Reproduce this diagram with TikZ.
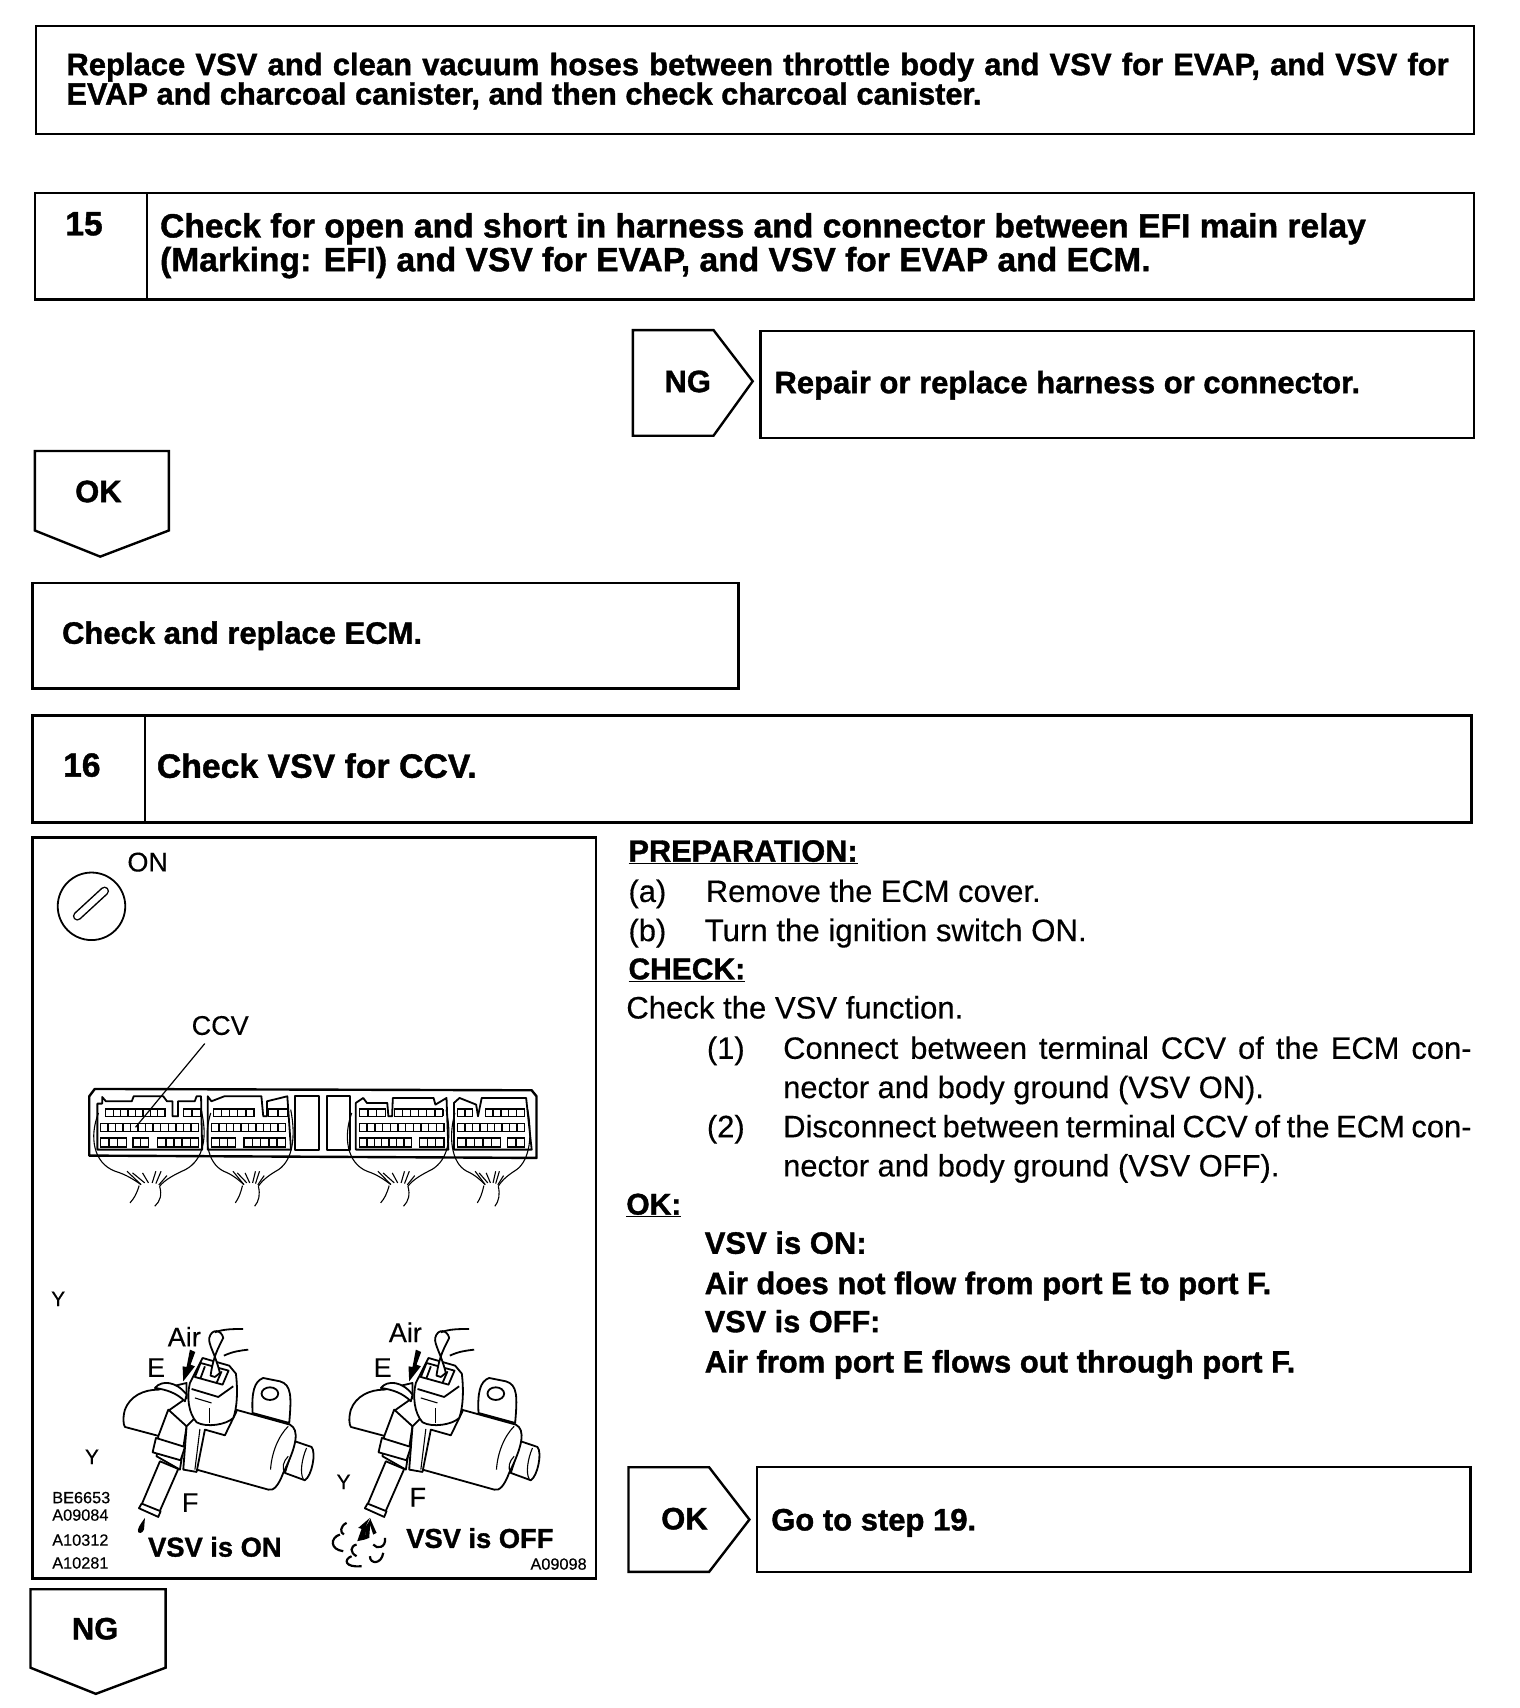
\documentclass[tikz,border=0pt]{standalone}
\usepackage{fontspec}
\setmainfont{Liberation Sans}[FakeBold=0.35,BoldFeatures={FakeBold=1.2}]
\newcommand{\reg}[1][30.9]{\fontsize{#1}{36}\selectfont\ignorespaces}
\newcommand{\bol}[1][31]{\fontsize{#1}{36}\selectfont\bfseries\ignorespaces}
\newcommand{\lab}{\fontsize{27}{30}\selectfont}
\newcommand{\labb}{\fontsize{27.3}{30}\selectfont\bfseries}
\newcommand{\sml}{\fontsize{16.3}{18}\selectfont}
\newcommand{\yy}{\fontsize{21}{24}\selectfont}
\newcommand{\wide}[2]{\makebox[1.0896\dimexpr #1pt\relax][s]{#2}}
\tikzset{
  frameb/.style={draw=black,line width=2.4pt,fill=white,line join=miter,outer sep=0pt},
  txt/.style={anchor=base west,inner sep=0pt,outer sep=0pt,text=black},
  thinl/.style={draw=black,line width=1.1pt},
  med/.style={draw=black,line width=1.8pt,line join=round},
  medw/.style={draw=black,line width=1.8pt,fill=white,line join=round},
}
\newcommand{\tx}[4]{\node[txt] (#1) at (#2,#3) {#4};}
\newcommand{\pinrow}[5]{% x1,x2,y1,y2,n
  \draw[line width=1.2pt] (#1,#3) rectangle (#2,#4);
  \pgfmathsetmacro{\pw}{(#2-#1)/#5}
  \foreach \i in {1,...,#5}{
    \draw[line width=1.4pt] ({#1+\i*\pw},#3) -- ({#1+\i*\pw},#4);}
}
\newcommand{\harness}{%
  \draw[thinl] (-137,30) .. controls (-162,100) and (-152,180) .. (-92,205) .. controls (-62,215) and (-42,230) .. (-22,245);
  \draw[thinl] (140,20) .. controls (158,100) and (148,170) .. (98,200) .. controls (68,215) and (43,230) .. (28,250);
  \draw[thinl] (-27,248) .. controls (-35,275) and (-40,285) .. (-52,300);
  \draw[thinl] (28,250) .. controls (35,275) and (30,295) .. (15,310);
  \draw[thinl] (-22,245) -- (-60,205);
  \draw[thinl] (-12,240) -- (-45,210);
  \draw[thinl] (-2,240) -- (-18,210);
  \draw[thinl] (8,240) -- (18,205);
  \draw[thinl] (18,242) -- (32,205);
  \draw[thinl] (26,246) -- (48,218);
}
\newcommand{\valve}{%
  % nub
  \draw[medw] (795,515) -- (845,532) .. controls (860,550) and (845,620) .. (825,632) -- (765,610) -- cycle;
  \draw[thinl] (830,535) .. controls (815,570) and (810,610) .. (820,628);
  % tab
  \draw[medw] (668,430) .. controls (665,370) and (672,335) .. (700,325) -- (750,335) .. controls (785,345) and (785,380) .. (778,460) -- cycle;
  \draw[med] (720,372) ellipse (25 and 19);
  % body
  \draw[medw] (610,418) -- (780,465) .. controls (810,480) and (800,530) .. (760,610) .. controls (745,650) and (730,665) .. (715,660) -- (500,600) -- (500,470) -- cycle;
  \draw[thinl] (775,470) .. controls (745,500) and (725,550) .. (722,600);
  \draw[thinl] (775,560) .. controls (760,575) and (755,595) .. (765,610);
  % elbow
  \draw[medw] (385,360) .. controls (340,360) and (300,380) .. (285,420) .. controls (278,445) and (280,465) .. (285,472) -- (390,500) -- (420,420) -- (470,385) -- (470,340) -- cycle;
  \draw[medw] (375,355) .. controls (395,330) and (440,335) .. (470,375) -- (465,395) .. controls (440,370) and (410,360) .. (375,355) -- cycle;
  \draw[medw] (415,420) -- (470,470) -- (450,600) -- (380,560) -- (385,500) -- cycle;
  % clamp
  \draw[medw] (470,470) -- (460,600) -- (500,607) -- (525,480) -- (585,497) -- (620,425) -- (500,440) -- cycle;
  \draw[thinl] (510,478) -- (495,600);
  % tube
  \draw[medw] (390,575) -- (335,705) -- (388,728) -- (445,598) -- cycle;
  \draw[medw] (335,702) -- (392,725) -- (385,742) -- (327,716) -- cycle;
  \draw[medw] (378,505) -- (465,532) -- (452,572) -- (368,548) -- cycle;
  % plug
  \draw[medw] (480,340) -- (518,265) -- (598,288) -- (618,312) .. controls (625,370) and (620,420) .. (610,445) .. controls (590,465) and (530,475) .. (500,458) .. controls (475,430) and (470,380) .. (480,340) -- cycle;
  \draw[med] (512,280) -- (596,303) -- (578,345) -- (495,322) -- cycle;
  \draw[med] (525,290) -- (512,325);
  \draw[med] (575,305) -- (560,340);
  \draw[med] (485,358) -- (565,382) -- (610,350);
  \draw[thinl] (495,385) -- (545,400);
  \draw[thinl] (540,415) -- (540,460);
  % wires
  \draw[medw] (542,318) .. controls (550,260) and (565,235) .. (580,205) .. controls (575,180) and (545,175) .. (538,205) .. controls (535,225) and (555,250) .. (570,310) -- (555,322) -- cycle;
  \draw[med] (555,188) .. controls (580,178) and (610,178) .. (640,178);
  \draw[med] (582,258) .. controls (610,245) and (630,243) .. (655,240);
  % air arrow
  \fill[black] (480,240) -- (496,247) -- (482,285) -- (495,290) -- (460,335) -- (458,290) -- (470,292) -- cycle;
}
\begin{document}
\begin{tikzpicture}[x=1.0896pt,y=-1.0896pt]
\useasboundingbox (0,0) rectangle (1395,1568);
\fill[white] (0,0) rectangle (1395,1568);

% boxes
\node[frameb,minimum width=1320*1.0896pt,minimum height=99*1.0896pt,anchor=north west,inner sep=0pt] (b1) at (33,24) {};
\node[frameb,minimum width=1321*1.0896pt,minimum height=98*1.0896pt,anchor=north west,inner sep=0pt] (b15) at (32,177) {};
\draw[frameb,fill=none] (135,177) -- (135,275);
\draw[frameb] (581,303) -- (655,303) -- (691,350) -- (655,400) -- (581,400) -- cycle;
\node[frameb,minimum width=655*1.0896pt,minimum height=98*1.0896pt,anchor=north west,inner sep=0pt] (brep) at (698,304) {};
\draw[frameb] (32,414) -- (155,414) -- (155,487) -- (92,511) -- (32,487) -- cycle;
\node[frameb,minimum width=648*1.0896pt,minimum height=97*1.0896pt,anchor=north west,inner sep=0pt] (becm) at (30,535) {};
\node[frameb,minimum width=1321*1.0896pt,minimum height=98*1.0896pt,anchor=north west,inner sep=0pt] (b16) at (30,657) {};
\draw[frameb,fill=none] (133,657) -- (133,755);
\node[frameb,minimum width=517*1.0896pt,minimum height=680*1.0896pt,anchor=north west,inner sep=0pt] (bill) at (30,769) {};
\draw[frameb] (577,1347) -- (651,1347) -- (688,1395) -- (651,1443) -- (577,1443) -- cycle;
\node[frameb,minimum width=655*1.0896pt,minimum height=96*1.0896pt,anchor=north west,inner sep=0pt] (bgo) at (695,1347) {};
\draw[frameb] (28,1459) -- (152,1459) -- (152,1531) -- (88,1555) -- (28,1531) -- cycle;

% box texts
\tx{t1}{61}{69}{\bol[31]\wide{1269}{Replace VSV and clean vacuum hoses between throttle body and VSV for EVAP, and VSV for}}
\tx{t2}{61}{96}{\bol[30.8] EVAP and charcoal canister, and then check charcoal canister.}
\tx{t3}{60}{216}{\bol[33.6] 15}
\tx{t4}{147}{218}{\bol[33.6] Check for open and short in harness and connector between EFI main relay}
\tx{t5}{147}{249}{\bol[33.6] (Marking: EFI) and VSV for EVAP, and VSV for EVAP and ECM.}
\tx{t6}{610}{360}{\bol NG}
\tx{t7}{711}{361}{\bol Repair or replace harness or connector.}
\tx{t8}{69}{461}{\bol OK}
\tx{t9}{57}{591}{\bol Check and replace ECM.}
\tx{t10}{58}{713}{\bol[33.6] 16}
\tx{t11}{144}{714}{\bol[33.8] Check VSV for CCV.}
\tx{t12}{607}{1404}{\bol OK}
\tx{t13}{708}{1405}{\bol Go to step 19.}
\tx{t14}{66}{1505}{\bol NG}

% right column
\tx{r1}{577}{791}{\bol[30.7]\underline{PREPARATION:}}
\tx{r2}{577}{828}{\reg (a)}
\tx{r3}{648}{828}{\reg Remove the ECM cover.}
\tx{r4}{577}{864}{\reg (b)}
\tx{r5}{647}{864}{\reg[31.2] Turn the ignition switch ON.}
\tx{r6}{577}{899}{\bol[30]\underline{CHECK:}}
\tx{r7}{575}{935}{\reg[31.1] Check the VSV function.}
\tx{r8}{649}{972}{\reg (1)}
\tx{r9}{719}{972}{\reg\wide{632}{Connect between terminal CCV of the ECM con-}}
\tx{r10}{719}{1008}{\reg nector and body ground (VSV ON).}
\tx{r11}{649}{1044}{\reg (2)}
\tx{r12}{719}{1044}{\reg\wide{632}{Disconnect between terminal CCV of the ECM con-}}
\tx{r13}{719}{1080}{\reg nector and body ground (VSV OFF).}
\tx{r14}{575}{1115}{\bol[30]\underline{OK:}}
\tx{r15}{647}{1151}{\bol VSV is ON:}
\tx{r16}{647}{1188}{\bol Air does not flow from port E to port F.}
\tx{r17}{647}{1223}{\bol[30.7] VSV is OFF:}
\tx{r18}{647}{1260}{\bol Air from port E flows out through port F.}

% key
\draw[med] (84,832) circle (31);
\draw[line width=9pt,line cap=round] (71,841) -- (96,818);
\draw[white,line width=6pt,line cap=round] (71,841) -- (96,818);

% connector (zoom coordinates)
\begin{scope}[shift={(27.53,761.7)},xscale=0.3399,yscale=0.3059]
  \draw[draw=black,line width=2.4pt,line join=round] (160,978) -- (160,800) -- (175,778) -- (1355,782) -- (1368,800) -- (1368,985) -- cycle;
  \draw[med] (182,960) -- (182,822) -- (195,822) -- (195,802) -- (205,815) -- (275,815) -- (280,800) -- (360,800) -- (370,815) -- (385,815) -- (385,860) -- (400,860) -- (400,815) -- (445,815) -- (450,800) -- (462,800) -- (465,960) -- cycle;
  \draw[med] (480,960) -- (480,800) -- (490,815) -- (525,800) -- (625,800) -- (630,860) -- (640,860) -- (640,815) -- (695,800) -- (705,960) -- cycle;
  \draw[med] (715,798) rectangle (780,960);
  \draw[med] (803,800) rectangle (865,960);
  \draw[med] (880,960) -- (880,820) -- (900,805) -- (910,820) -- (965,820) -- (968,860) -- (978,860) -- (980,805) -- (1090,805) -- (1095,825) -- (1125,805) -- (1130,960) -- cycle;
  \draw[med] (1145,960) -- (1145,820) -- (1160,805) -- (1205,825) -- (1210,860) -- (1220,805) -- (1340,805) -- (1355,960) -- cycle;
  \pinrow{205}{365}{838}{860}{8}\pinrow{415}{460}{838}{860}{2}
  \pinrow{190}{455}{882}{905}{13}
  \pinrow{190}{260}{925}{952}{3}\pinrow{278}{320}{925}{952}{2}\pinrow{345}{455}{925}{952}{5}
  \pinrow{495}{605}{838}{860}{5}\pinrow{645}{695}{838}{860}{2}
  \pinrow{490}{690}{882}{905}{10}
  \pinrow{490}{555}{925}{952}{3}\pinrow{578}{690}{925}{952}{5}
  \pinrow{890}{960}{838}{860}{3}\pinrow{985}{1115}{838}{860}{6}
  \pinrow{890}{1118}{882}{905}{11}
  \pinrow{890}{1030}{925}{952}{7}\pinrow{1052}{1118}{925}{952}{3}
  \pinrow{1155}{1195}{838}{860}{2}\pinrow{1230}{1335}{838}{860}{5}
  \pinrow{1155}{1335}{882}{905}{9}
  \pinrow{1155}{1270}{925}{952}{5}\pinrow{1290}{1335}{925}{952}{2}
  \begin{scope}[shift={(322,820)}]\harness\end{scope}
  \begin{scope}[shift={(595,820)},xscale=0.78]\harness\end{scope}
  \begin{scope}[shift={(995,820)},xscale=0.92]\harness\end{scope}
  \begin{scope}[shift={(1245,820)},xscale=0.71]\harness\end{scope}
  \coordinate (ccvend) at (285,893);
\end{scope}
\coordinate (ccvstart) at (188,958);
\draw[line width=1.2pt] (ccvstart) -- (ccvend);

% valves (zoom coordinates)
\begin{scope}[shift={(27.53,1165.6)},scale=0.3059]
  \valve
  \fill[black] (345,745) .. controls (330,765) and (320,780) .. (325,788) .. controls (332,795) and (345,785) .. (343,770) -- cycle;
\end{scope}
\begin{scope}[shift={(234.93,1165.6)},scale=0.3059]
  \valve
\end{scope}
% air puffs (zoom coordinates)
\begin{scope}[shift={(293.7,1183.9)},scale=0.3059]
  \fill[black] (150,685) -- (115,715) -- (125,718) -- (112,755) -- (135,750) -- (140,705) -- cycle;
  \fill[black] (150,685) -- (170,730) -- (160,735) -- (150,705) -- cycle;
  \fill[black] (152,688) -- (148,745) -- (135,750) -- (138,710) -- cycle;
  \draw[line width=2.2pt] (80,700) .. controls (60,710) and (60,730) .. (72,735);
  \draw[line width=2.2pt] (60,735) .. controls (30,745) and (30,780) .. (70,785);
  \draw[line width=2.2pt] (110,765) .. controls (90,770) and (90,790) .. (110,800);
  \draw[line width=2.2pt] (95,800) .. controls (70,810) and (75,835) .. (125,830);
  \draw[line width=2.2pt] (150,800) .. controls (150,825) and (185,825) .. (190,790);
  \draw[line width=2.2pt] (160,765) .. controls (170,780) and (200,775) .. (195,745);
\end{scope}

% illustration labels
\tx{l1}{117}{800}{\lab ON}
\tx{l2}{176}{950}{\lab CCV}
\tx{l3}{47}{1199}{\yy Y}
\tx{l4}{78}{1344}{\yy Y}
\tx{l5}{309}{1367}{\yy Y}
\tx{l6}{154}{1236}{\lab Air}
\tx{l7}{135}{1264}{\lab E}
\tx{l8}{167}{1388}{\lab F}
\tx{l9}{357}{1232}{\lab Air}
\tx{l10}{343}{1264}{\lab E}
\tx{l11}{376}{1383}{\lab F}
\tx{l12}{136}{1429}{\labb VSV is ON}
\tx{l13}{373}{1421}{\labb VSV is OFF}
\tx{l14}{48}{1380}{\sml BE6653}
\tx{l15}{48}{1396}{\sml A09084}
\tx{l16}{48}{1419}{\sml A10312}
\tx{l17}{48}{1440}{\sml A10281}
\tx{l18}{487}{1441}{\sml A09098}
\end{tikzpicture}
\end{document}
